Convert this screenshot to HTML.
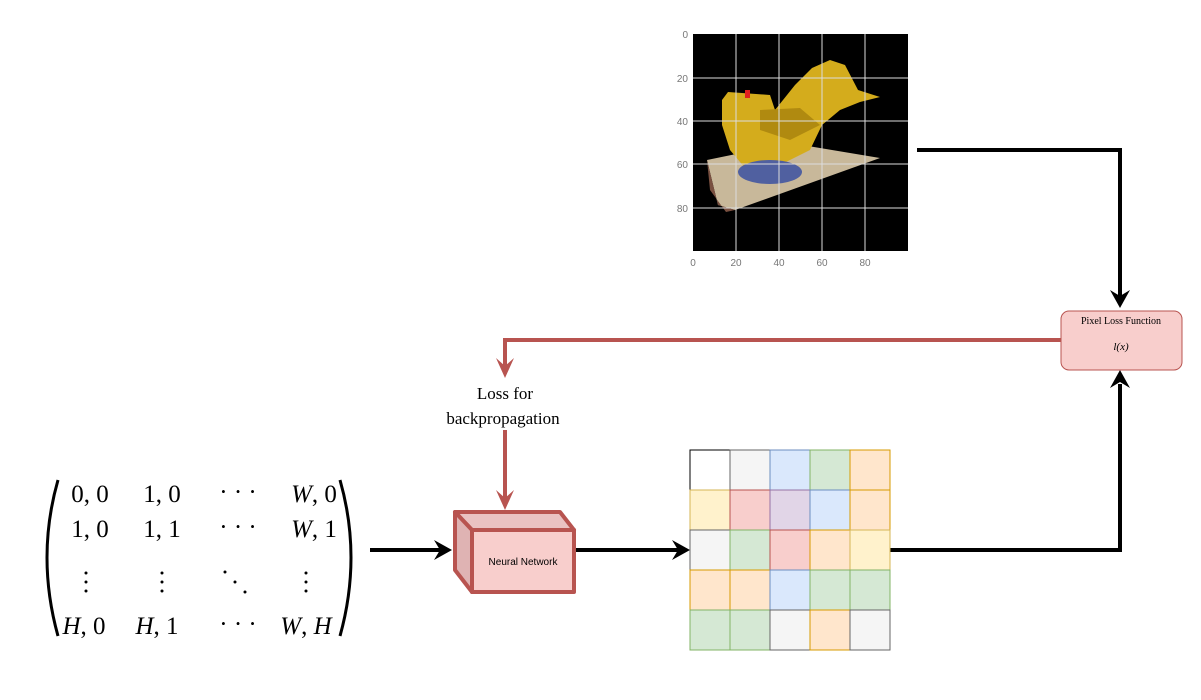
<!DOCTYPE html>
<html><head><meta charset="utf-8"><style>
html,body{margin:0;padding:0;background:#fff;}
svg{display:block;}
.m{font-family:"Liberation Serif",serif;font-size:25px;fill:#000;}
</style></head><body>
<svg width="1201" height="700" viewBox="0 0 1201 700" xmlns="http://www.w3.org/2000/svg">
<!-- image plot -->
<rect x="693" y="34" width="215" height="217" fill="#000"/>
<polygon points="707,160 790,143 880,158 735,210 718,205" fill="#c8b89a"/>
<polygon points="707,160 718,205 735,210 726,212 710,190" fill="#7a5040"/>
<polygon points="722,100 728,92 770,95 775,110 795,85 812,68 830,60 845,65 858,90 880,97 860,102 840,110 822,125 810,150 780,165 745,168 730,150 722,125" fill="#d4ac1c"/>
<polygon points="760,110 800,108 820,125 790,140 760,130" fill="#b08a10"/>
<ellipse cx="770" cy="172" rx="32" ry="12" fill="#5060a0"/>
<rect x="745" y="90" width="5" height="8" fill="#e02020"/>
<g stroke="#ddd" stroke-width="1">
<line x1="736" y1="34" x2="736" y2="251"/><line x1="779" y1="34" x2="779" y2="251"/>
<line x1="822" y1="34" x2="822" y2="251"/><line x1="865" y1="34" x2="865" y2="251"/>
<line x1="693" y1="78" x2="908" y2="78"/><line x1="693" y1="121" x2="908" y2="121"/>
<line x1="693" y1="164" x2="908" y2="164"/><line x1="693" y1="208" x2="908" y2="208"/>
</g>
<g font-family="Liberation Sans,sans-serif" font-size="10" fill="#777">
<text x="688" y="38" text-anchor="end">0</text><text x="688" y="82" text-anchor="end">20</text>
<text x="688" y="125" text-anchor="end">40</text><text x="688" y="168" text-anchor="end">60</text>
<text x="688" y="212" text-anchor="end">80</text>
<text x="693" y="266" text-anchor="middle">0</text><text x="736" y="266" text-anchor="middle">20</text>
<text x="779" y="266" text-anchor="middle">40</text><text x="822" y="266" text-anchor="middle">60</text>
<text x="865" y="266" text-anchor="middle">80</text>
</g>
<!-- black connectors -->
<g stroke="#000" stroke-width="4" fill="none">
<polyline points="917,150 1120,150 1120,296"/>
<polyline points="890,550 1120,550 1120,384"/>
<line x1="370" y1="550" x2="440" y2="550"/>
<line x1="576" y1="550" x2="678" y2="550"/>
</g>
<g fill="#000">
<polygon points="1120,308 1110,290 1120,296 1130,290"/>
<polygon points="1120,370 1110,388 1120,382 1130,388"/>
<polygon points="452,550 434,540 440,550 434,560"/>
<polygon points="690,550 672,540 678,550 672,560"/>
</g>
<!-- red -->
<g stroke="#b85450" stroke-width="4" fill="none">
<polyline points="1062,340 505,340 505,366"/>
<line x1="505" y1="430" x2="505" y2="500"/>
</g>
<g fill="#b85450">
<polygon points="505,378 496,358 505,366 514,358"/>
<polygon points="505,510 496,490 505,498 514,490"/>
</g>
<text x="505" y="399" text-anchor="middle" font-family="Liberation Serif,serif" font-size="17">Loss for</text>
<text x="503" y="424" text-anchor="middle" font-family="Liberation Serif,serif" font-size="17">backpropagation</text>
<!-- loss box -->
<rect x="1061" y="311" width="121" height="59" rx="8" fill="#f8cecc" stroke="#b85450" stroke-width="1"/>
<text x="1121" y="324" text-anchor="middle" font-family="Liberation Serif,serif" font-size="10">Pixel Loss Function</text>
<text x="1121" y="350" text-anchor="middle" font-family="Liberation Serif,serif" font-style="italic" font-size="11">l(x)</text>
<!-- cube -->
<g stroke="#b85450" stroke-width="4" stroke-linejoin="round">
<polygon points="455,512 560,512 574,530 472,530" fill="#eac2c2"/>
<polygon points="455,512 472,530 472,592 455,570" fill="#dfb3b3"/>
<rect x="472" y="530" width="102" height="62" fill="#f8cecc"/>
</g>
<text x="523" y="565" text-anchor="middle" font-family="Liberation Sans,sans-serif" font-size="10">Neural Network</text>
<!-- grid -->
<g stroke-width="1">
<rect x="690" y="450" width="40" height="40" fill="#fff" stroke="#000"/>
<rect x="730" y="450" width="40" height="40" fill="#f5f5f5" stroke="#666"/>
<rect x="770" y="450" width="40" height="40" fill="#dae8fc" stroke="#6c8ebf"/>
<rect x="810" y="450" width="40" height="40" fill="#d5e8d4" stroke="#82b366"/>
<rect x="850" y="450" width="40" height="40" fill="#ffe6cc" stroke="#d79b00"/>
<rect x="690" y="490" width="40" height="40" fill="#fff2cc" stroke="#d6b656"/>
<rect x="730" y="490" width="40" height="40" fill="#f8cecc" stroke="#b85450"/>
<rect x="770" y="490" width="40" height="40" fill="#e1d5e7" stroke="#9673a6"/>
<rect x="810" y="490" width="40" height="40" fill="#dae8fc" stroke="#6c8ebf"/>
<rect x="850" y="490" width="40" height="40" fill="#ffe6cc" stroke="#d79b00"/>
<rect x="690" y="530" width="40" height="40" fill="#f5f5f5" stroke="#666"/>
<rect x="730" y="530" width="40" height="40" fill="#d5e8d4" stroke="#82b366"/>
<rect x="770" y="530" width="40" height="40" fill="#f8cecc" stroke="#b85450"/>
<rect x="810" y="530" width="40" height="40" fill="#ffe6cc" stroke="#d79b00"/>
<rect x="850" y="530" width="40" height="40" fill="#fff2cc" stroke="#d6b656"/>
<rect x="690" y="570" width="40" height="40" fill="#ffe6cc" stroke="#d79b00"/>
<rect x="730" y="570" width="40" height="40" fill="#ffe6cc" stroke="#d79b00"/>
<rect x="770" y="570" width="40" height="40" fill="#dae8fc" stroke="#6c8ebf"/>
<rect x="810" y="570" width="40" height="40" fill="#d5e8d4" stroke="#82b366"/>
<rect x="850" y="570" width="40" height="40" fill="#d5e8d4" stroke="#82b366"/>
<rect x="690" y="610" width="40" height="40" fill="#d5e8d4" stroke="#82b366"/>
<rect x="730" y="610" width="40" height="40" fill="#d5e8d4" stroke="#82b366"/>
<rect x="770" y="610" width="40" height="40" fill="#f5f5f5" stroke="#666"/>
<rect x="810" y="610" width="40" height="40" fill="#ffe6cc" stroke="#d79b00"/>
<rect x="850" y="610" width="40" height="40" fill="#f5f5f5" stroke="#666"/>
</g>
<!-- matrix -->
<path d="M58,480 Q36,557 58,636" stroke="#000" stroke-width="3" fill="none"/>
<path d="M340,480 Q362,557 340,636" stroke="#000" stroke-width="3" fill="none"/>
<g class="m" text-anchor="middle">
<text x="90" y="502">0, 0</text><text x="162" y="502">1, 0</text><text x="314" y="502"><tspan font-style="italic">W</tspan>, 0</text>
<text x="90" y="537">1, 0</text><text x="162" y="537">1, 1</text><text x="314" y="537"><tspan font-style="italic">W</tspan>, 1</text>
<text x="84" y="634"><tspan font-style="italic">H</tspan>, 0</text><text x="157" y="634"><tspan font-style="italic">H</tspan>, 1</text><text x="306" y="634"><tspan font-style="italic">W</tspan>, <tspan font-style="italic">H</tspan></text>
<text x="238" y="500">· · ·</text><text x="238" y="535">· · ·</text><text x="238" y="632">· · ·</text>
</g>
<g fill="#000">
<circle cx="86" cy="573" r="1.5"/><circle cx="86" cy="582" r="1.5"/><circle cx="86" cy="591" r="1.5"/>
<circle cx="162" cy="573" r="1.5"/><circle cx="162" cy="582" r="1.5"/><circle cx="162" cy="591" r="1.5"/>
<circle cx="306" cy="573" r="1.5"/><circle cx="306" cy="582" r="1.5"/><circle cx="306" cy="591" r="1.5"/>
<circle cx="225" cy="572" r="1.5"/><circle cx="235" cy="582" r="1.5"/><circle cx="245" cy="592" r="1.5"/>
</g>
</svg>
</body></html>
